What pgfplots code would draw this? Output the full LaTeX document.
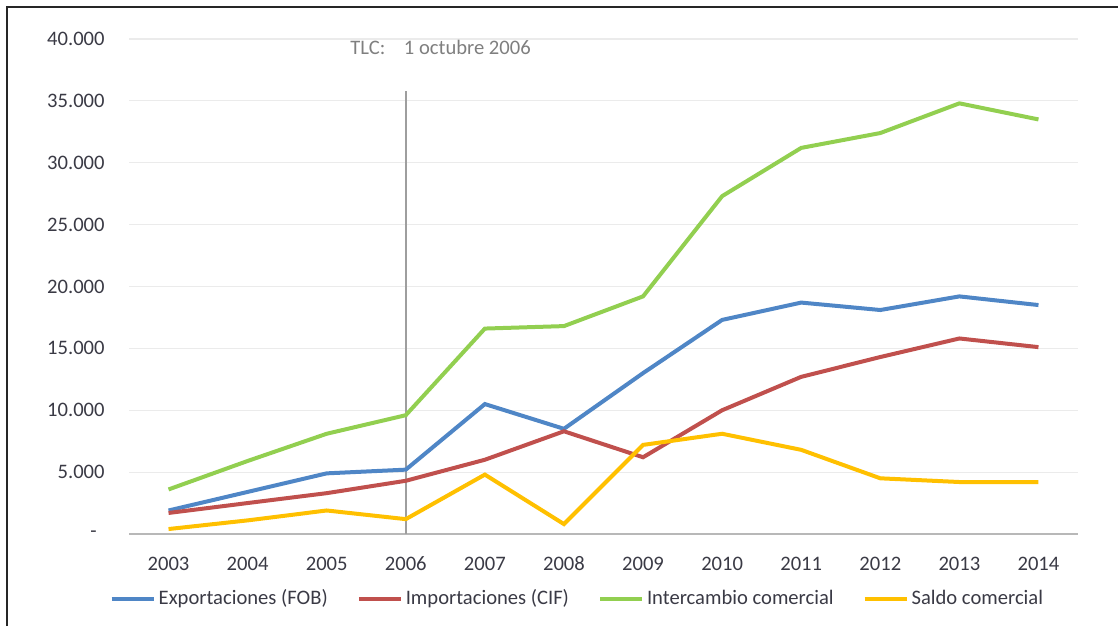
\documentclass[border=0pt]{standalone}
\usepackage{pgfplots}
\pgfplotsset{compat=1.18}
\usepackage{fontspec}
\setmainfont{Carlito}
\definecolor{cblue}{HTML}{4F86C6}
\definecolor{cred}{HTML}{C0504D}
\definecolor{cgreen}{HTML}{92CF50}
\definecolor{cyellow}{HTML}{FFC000}
\definecolor{tickgray}{HTML}{3A3A45}
\definecolor{notegray}{HTML}{7F7F7F}
\begin{document}
\begin{tikzpicture}[x=1pt,y=1pt]
\useasboundingbox (0,0) rectangle (559,313);
\draw[line width=1.1pt,black!85] (3.5,0) -- (3.5,309.5) -- (559,309.5);
\begin{axis}[
  at={(64.5pt,46pt)}, anchor=south west,
  scale only axis, width=474.5pt, height=247.5pt,
  xmin=2002.5, xmax=2014.5, ymin=0, ymax=40000,
  scaled y ticks=false,
  xtick={2003,2004,2005,2006,2007,2008,2009,2010,2011,2012,2013,2014},
  xticklabels={2003,2004,2005,2006,2007,2008,2009,2010,2011,2012,2013,2014},
  ytick={0,5000,10000,15000,20000,25000,30000,35000,40000},
  yticklabels={{-\hspace*{4pt}},5.000,10.000,15.000,20.000,25.000,30.000,35.000,40.000},
  axis lines*=left,
  y axis line style={draw=none},
  x axis line style={draw=black!28, line width=1.4pt},
  major tick length=0pt,
  ymajorgrids, grid style={draw=black!8, line width=0.6pt},
  every tick label/.append style={font=\fontsize{10.3}{12}\selectfont, text=tickgray},
  xticklabel style={anchor=center, yshift=-15pt},
  yticklabel style={anchor=east, inner sep=0pt, xshift=-12pt},
  legend columns=4,
  legend style={draw=none, fill=none, at={(0.473,-0.131)}, anchor=center,
    font=\fontsize{10.3}{12}\selectfont, text=tickgray,
    /tikz/every even column/.append style={column sep=13pt},
    nodes={inner xsep=1.5pt}},
  legend image code/.code={\draw[#1] (0pt,0pt) -- (21pt,0pt);},
  clip=false,
]
\addplot[black!38, line width=1.2pt, forget plot] coordinates {(2006,0) (2006,35800)};
\addplot[cblue, line width=2pt] coordinates {
 (2003,1900) (2004,3400) (2005,4900) (2006,5200) (2007,10500) (2008,8500)
 (2009,13000) (2010,17300) (2011,18700) (2012,18100) (2013,19200) (2014,18500)};
\addlegendentry{Exportaciones (FOB)}
\addplot[cred, line width=2pt] coordinates {
 (2003,1700) (2004,2500) (2005,3300) (2006,4300) (2007,6000) (2008,8300)
 (2009,6200) (2010,10000) (2011,12700) (2012,14300) (2013,15800) (2014,15100)};
\addlegendentry{Importaciones (CIF)}
\addplot[cgreen, line width=2pt] coordinates {
 (2003,3600) (2004,5900) (2005,8100) (2006,9600) (2007,16600) (2008,16800)
 (2009,19200) (2010,27300) (2011,31200) (2012,32400) (2013,34800) (2014,33500)};
\addlegendentry{Intercambio comercial}
\addplot[cyellow, line width=2pt] coordinates {
 (2003,400) (2004,1100) (2005,1900) (2006,1200) (2007,4800) (2008,800)
 (2009,7200) (2010,8100) (2011,6800) (2012,4500) (2013,4200) (2014,4200)};
\addlegendentry{Saldo comercial}
\node[font=\fontsize{10.3}{12}\selectfont, text=notegray, anchor=center] at (axis cs:2006.44,39340) {TLC:\hspace{0.9em}1 octubre 2006};
\end{axis}
\end{tikzpicture}
\end{document}
